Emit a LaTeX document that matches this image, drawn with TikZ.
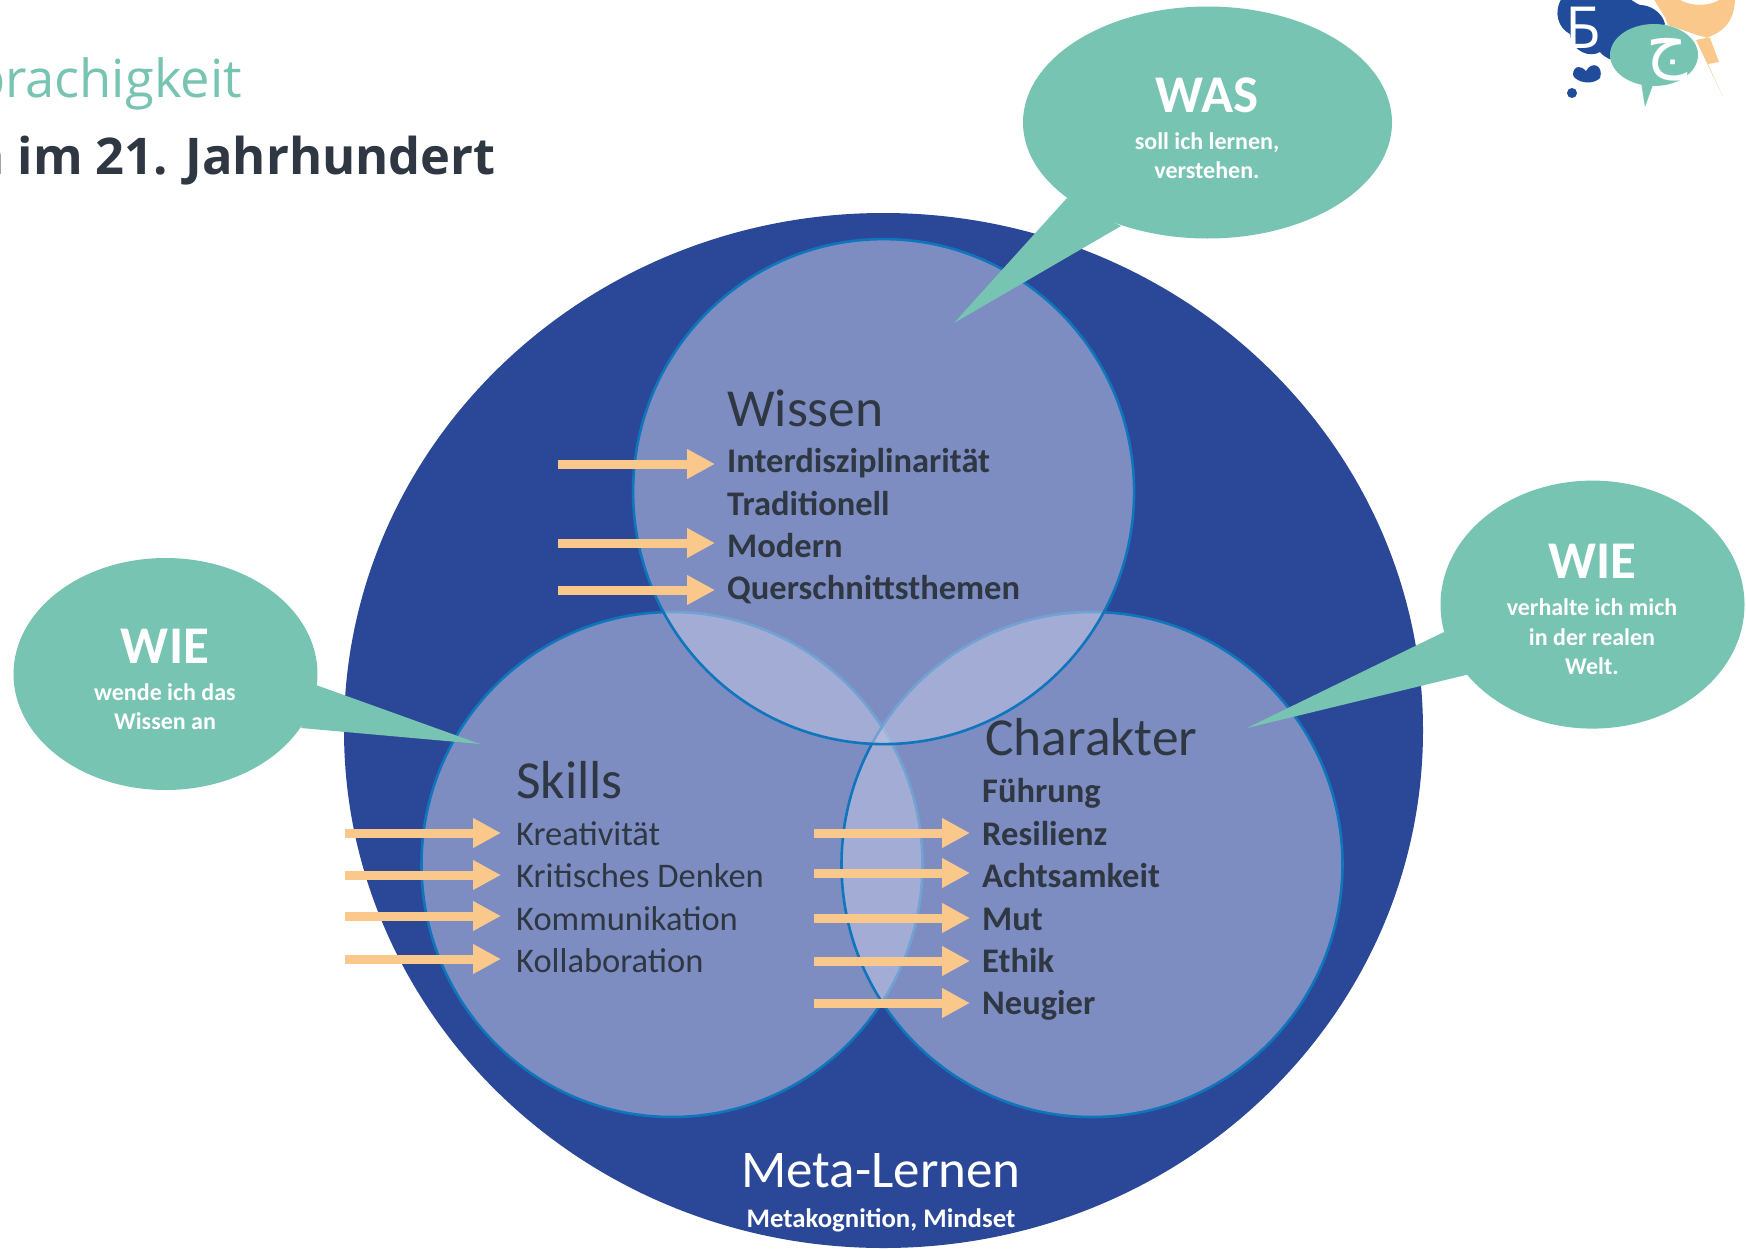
\documentclass[tikz,border=0pt]{standalone}
\usepackage{fontspec}
\setmainfont{Carlito}
\newfontfamily\titlefont{Open Sans}
\newfontfamily\arabicfont[Script=Arabic]{DejaVu Sans}
\TeXXeTstate=1
\usetikzlibrary{arrows.meta}
\definecolor{bigblue}{HTML}{2B4898}
\definecolor{vennfill}{HTML}{C2C7E6}
\definecolor{vennline}{HTML}{0F75BC}
\definecolor{teal}{HTML}{78C4B2}
\definecolor{peach}{HTML}{FBC88C}
\definecolor{ink}{HTML}{2E3742}
\definecolor{logoblue}{HTML}{214C9C}
\newcommand{\fs}[1]{\fontsize{#1}{#1}\selectfont}
\tikzset{
  vennc/.style={fill=vennfill,fill opacity=.55,draw=vennline,line width=2.6pt},
  bubble/.style={fill=teal,draw=none},
  head/.style={anchor=base west,inner sep=0pt,text=ink,font=\fs{53.5}},
  item/.style={anchor=base west,inner sep=0pt,text=ink,font=\fs{34.5}},
  bolditem/.style={anchor=base west,inner sep=0pt,text=ink,font=\fs{34.5}\bfseries},
  bubblehead/.style={anchor=base,inner sep=0pt,text=white,font=\fs{53}\bfseries},
  bubblesub/.style={anchor=base,inner sep=0pt,text=white,font=\fs{24}\bfseries},
  blockarrow/.style={draw=peach,line width=9pt,shorten >=12pt,-{Triangle[length=28pt,width=28pt,fill=peach]}},
}
\begin{document}
\begin{tikzpicture}[x=1pt,y=-1pt]
\useasboundingbox (0,0) rectangle (1746,1248);
\clip (0,0) rectangle (1746,1248);
\fill[white] (0,0) rectangle (1746,1248);

% title
\node[anchor=base east,inner sep=0pt,text=teal,font=\titlefont\fs{52.5}] (t1) at (242,97) {prachigkeit};
\node[anchor=base east,inner sep=0pt,text=ink,font=\titlefont\bfseries\fs{50.6}] (t2) at (496,174) {n im 21. Jahrhundert};

% circles
\fill[bigblue] (883.5,730.5) ellipse [x radius=539.5,y radius=517.5];
\path[vennc] (672,864.5) ellipse [x radius=250.5,y radius=252.5];
\path[vennc] (1092,864.5) ellipse [x radius=250.5,y radius=252.5];
\path[vennc] (883.6,491.6) ellipse [x radius=250.5,y radius=252.5];

% bubbles
\fill[bubble] (1207.5,122.5) ellipse [x radius=184.5,y radius=116];
\fill[bubble] (1067,198) -- (954,323) -- (1121,226) -- cycle;
\fill[bubble] (1592.5,604.6) ellipse [x radius=152,y radius=124];
\fill[bubble] (1444,632) -- (1247,728) -- (1470,674) -- cycle;
\fill[bubble] (165.5,674) ellipse [x radius=152,y radius=116];
\fill[bubble] (316,685) -- (480,744) -- (301,728) -- cycle;

\node[bubblehead] (was) at (1207,112) {WAS};
\node[bubblesub] (was1) at (1207,149) {soll ich lernen,};
\node[bubblesub] (was2) at (1207,178) {verstehen.};
\node[bubblehead] (wier) at (1592,578) {WIE};
\node[bubblesub] (wier1) at (1592,615) {verhalte ich mich};
\node[bubblesub] (wier2) at (1592,645) {in der realen};
\node[bubblesub] (wier3) at (1592,674) {Welt.};
\node[bubblehead] (wiel) at (165,663) {WIE};
\node[bubblesub] (wiel1) at (165,700) {wende ich das};
\node[bubblesub] (wiel2) at (165,729) {Wissen an};

% Wissen
\node[head] (wissen) at (727,426) {Wissen};
\node[bolditem] (w1) at (727,472) {Interdisziplinarität};
\node[bolditem] (w2) at (727,515) {Traditionell};
\node[bolditem] (w3) at (727,557) {Modern};
\node[bolditem] (w4) at (727,599) {Querschnittsthemen};
% Skills
\node[head] (skills) at (516,798) {Skills};
\node[item] (s1) at (516,845) {Kreativität};
\node[item] (s2) at (516,887) {Kritisches Denken};
\node[item] (s3) at (516,930) {Kommunikation};
\node[item] (s4) at (516,972) {Kollaboration};
% Charakter
\node[head] (charakter) at (985,755) {Charakter};
\node[bolditem] (c0) at (982,802) {Führung};
\node[bolditem] (c1) at (982,845) {Resilienz};
\node[bolditem] (c2) at (982,887) {Achtsamkeit};
\node[bolditem] (c3) at (982,930) {Mut};
\node[bolditem] (c4) at (982,972) {Ethik};
\node[bolditem] (c5) at (982,1014) {Neugier};
% Meta
\node[anchor=base,inner sep=0pt,text=white,font=\fs{53}] (meta) at (881,1187) {Meta-Lernen};
\node[anchor=base,inner sep=0pt,text=white,font=\fs{26.8}\bfseries] (metasub) at (881,1227) {Metakognition, Mindset};

% arrows
\coordinate (aw1) at (558,464);
\coordinate (aw3) at (558,543);
\coordinate (aw4) at (558,590);
\coordinate (as1) at (345,833);
\coordinate (as2) at (345,875);
\coordinate (as3) at (345,916);
\coordinate (as4) at (345,959);
\coordinate (ac1) at (814,833);
\coordinate (ac2) at (814,873);
\coordinate (ac3) at (814,918);
\coordinate (ac4) at (814,961);
\coordinate (ac5) at (814,1003);
\draw[blockarrow] (aw1) -- (aw1 -| w1.west);
\draw[blockarrow] (aw3) -- (aw3 -| w3.west);
\draw[blockarrow] (aw4) -- (aw4 -| w4.west);
\draw[blockarrow,shorten >=15pt] (as1) -- (as1 -| s1.west);
\draw[blockarrow,shorten >=15pt] (as2) -- (as2 -| s2.west);
\draw[blockarrow,shorten >=15pt] (as3) -- (as3 -| s3.west);
\draw[blockarrow,shorten >=15pt] (as4) -- (as4 -| s4.west);
\draw[blockarrow] (ac1) -- (ac1 -| c1.west);
\draw[blockarrow] (ac2) -- (ac2 -| c2.west);
\draw[blockarrow] (ac3) -- (ac3 -| c3.west);
\draw[blockarrow] (ac4) -- (ac4 -| c4.west);
\draw[blockarrow] (ac5) -- (ac5 -| c5.west);

% logo
\fill[peach] (1653,-2) .. controls (1660,10) and (1665,15) .. (1668,25)
  -- (1700,36) -- (1710,38) -- (1719,62) -- (1708,64) -- (1723,97) -- (1696,40)
  .. controls (1722,36) and (1735,22) .. (1735,-2) -- cycle;
\fill[white] (1677,-2) .. controls (1690,7) and (1710,7) .. (1722,-2) -- cycle;
\fill[logoblue] (1562,-2) .. controls (1553,12) and (1558,28) .. (1570,34)
  .. controls (1572,52) and (1590,58) .. (1600,52)
  .. controls (1610,64) and (1625,62) .. (1640,55)
  -- (1665,24) .. controls (1662,12) and (1650,5) .. (1640,5)
  .. controls (1635,3) and (1632,0) .. (1628,-2) -- cycle;
\fill[logoblue] (1586,71) .. controls (1575,60) and (1570,75) .. (1575,78)
  .. controls (1582,84) and (1594,84) .. (1600,78)
  .. controls (1604,66) and (1592,60) .. (1586,71) -- cycle;
\fill[logoblue] (1572,93) circle (5);
\fill[teal] (1654,55) ellipse [x radius=44,y radius=31];
\fill[teal] (1641,82) -- (1645,107) -- (1654,82) -- cycle;
\node[inner sep=0pt,text=white,font=\titlefont\fs{58}] (logob) at (1583,28) {Б};
\node[inner sep=0pt,text=white,font=\arabicfont\fs{64}] (logoj) at (1667,60) {\beginR ج\endR};
\end{tikzpicture}
\end{document}
